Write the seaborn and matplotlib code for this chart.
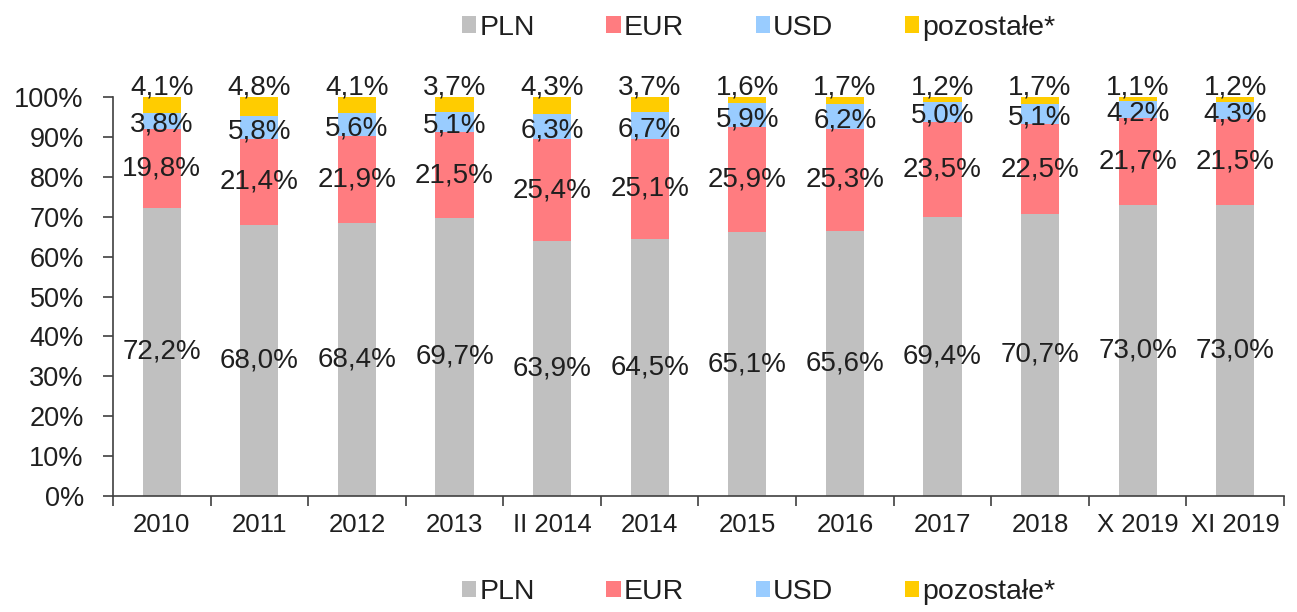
import numpy as np
import pandas as pd
import matplotlib
matplotlib.use("Agg")
import matplotlib.pyplot as plt
import seaborn as sns
from matplotlib.patches import Patch
from matplotlib.ticker import FixedLocator

categories = ["2010", "2011", "2012", "2013", "II 2014", "2014", "2015", "2016",
              "2017", "2018", "X 2019", "XI 2019"]
pln = [72.2, 68.0, 68.4, 69.7, 63.9, 64.5, 65.1, 65.6, 69.4, 70.7, 73.0, 73.0]
eur = [19.8, 21.4, 21.9, 21.5, 25.4, 25.1, 25.9, 25.3, 23.5, 22.5, 21.7, 21.5]
usd = [3.8, 5.8, 5.6, 5.1, 6.3, 6.7, 5.9, 6.2, 5.0, 5.1, 4.2, 4.3]
other = [4.1, 4.8, 4.1, 3.7, 4.3, 3.7, 1.6, 1.7, 1.2, 1.7, 1.1, 1.2]
series_names = ["PLN", "EUR", "USD", "pozostałe*"]
colors = ["#C0C0C0", "#FF7C80", "#99CCFF", "#FFCC00"]

sns.set_theme(style="white")
plt.rcParams["font.family"] = ["Liberation Sans", "DejaVu Sans"]
txt = "#1f1f1f"

fig = plt.figure(figsize=(12.97, 6.12), dpi=100)
ax = fig.add_axes([0.0871, 0.1895, 0.9029, 0.652])

series = [np.array(s, dtype=float) for s in (pln, eur, usd, other)]
total = sum(series)
norm = [s / total * 100 for s in series]  # 100% stacked

bottom = np.zeros(len(categories))
for k, (vals, col) in enumerate(zip(norm, colors)):
    sns.barplot(x=categories, y=vals, bottom=bottom, color=col, width=0.39,
                ax=ax, saturation=1, edgecolor="none", linewidth=0)
    raw = series[k]
    for i in range(len(categories)):
        c = bottom[i] + vals[i] / 2
        if k == 2:
            c -= 1.0
        elif k == 3:
            c = bottom[i] + vals[i] + 2.5
        ax.text(i, c, f"{raw[i]:.1f}%".replace(".", ","), ha="center", va="center",
                fontsize=20, color=txt)
    bottom = bottom + vals

ax.set_ylim(0, 100)
ax.set_xlim(-0.5, len(categories) - 0.5)
ax.set_yticks(np.arange(0, 101, 10))
ax.set_yticklabels([f"{v}%" for v in range(0, 101, 10)], fontsize=19.5, color=txt)
ax.set_xticks(range(len(categories)))
ax.set_xticklabels(categories, fontsize=18.5, color=txt)
ax.xaxis.set_minor_locator(FixedLocator(np.arange(-0.5, len(categories), 1)))
ax.tick_params(axis="x", which="major", length=0, pad=12)
ax.tick_params(axis="x", which="minor", length=7, width=1.2, color="#404040", direction="out", bottom=True)
ax.tick_params(axis="y", which="major", length=7, width=1.2, color="#404040", direction="out", left=True, pad=14)
for s in ["top", "right"]:
    ax.spines[s].set_visible(False)
for s in ["left", "bottom"]:
    ax.spines[s].set_color("#404040")
    ax.spines[s].set_linewidth(1.2)
ax.set_xlabel("")
ax.set_ylabel("")
ax.grid(False)

handles = [Patch(facecolor=c, edgecolor="none") for c in colors]
for ypos in (0.955, 0.033):
    fig.legend(handles, series_names, loc="center", bbox_to_anchor=(0.585, ypos),
               ncol=4, frameon=False, fontsize=20.5, handlelength=0.5, handleheight=0.5,
               handletextpad=0.12, columnspacing=2.5, labelcolor=txt)

fig.savefig("out.png", dpi=100)
